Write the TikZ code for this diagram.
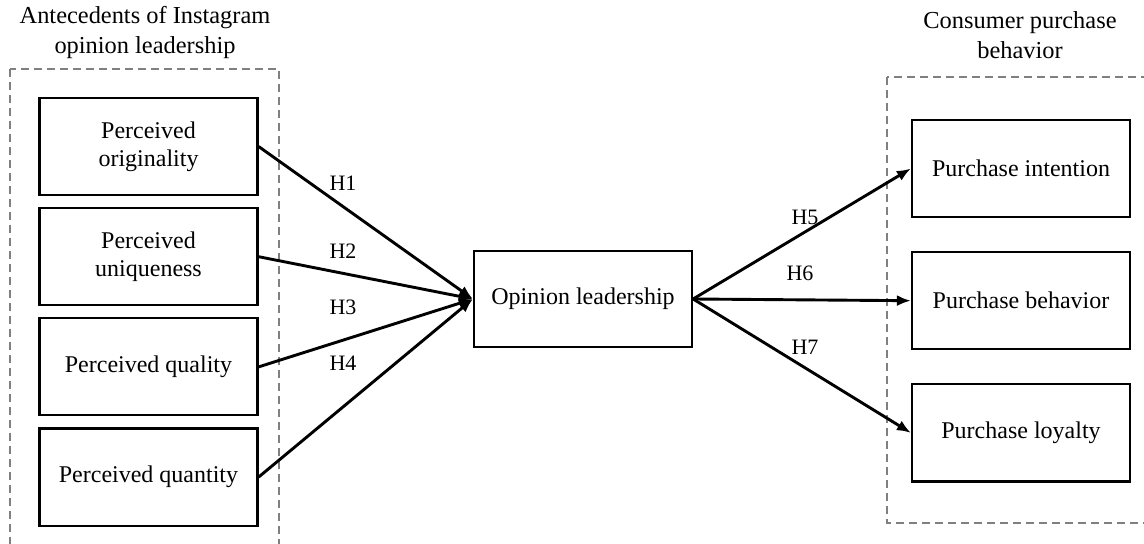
\documentclass[tikz,border=0pt]{standalone}
\usepackage{fontspec}
\setmainfont{Liberation Serif}
\usetikzlibrary{positioning,arrows.meta}

\begin{document}
\begin{tikzpicture}[
    x=0.5pt, y=-0.5pt,
    node distance = 5.5pt and 14mm,
    boxstyle/.style = {draw,
                       line width=1.1pt,
                       minimum width=109pt,
                       minimum height=48.5pt,
                       align=center,
                       font=\fontsize{12}{14}\selectfont},
    grpstyle/.style = {draw=gray,
                       line width=0.6pt,
                       dash pattern=on 4pt off 2.5pt},
    hyp/.style      = {font=\fontsize{11}{12}\selectfont},
    ttl/.style      = {align=center,
                       font=\fontsize{12.2}{15}\selectfont},
    arr/.style      = {line width=1.45pt,
                       -{Latex[length=7pt,width=5.5pt]}}
]
\useasboundingbox (0,0) rectangle (1144,544);
\clip (0,0) rectangle (1144,544);
% groups
\draw[grpstyle] (10,69) rectangle (279,570);
\draw[grpstyle] (887,77) rectangle (1170,523);
\node (tl) [ttl] at (145,33) {Antecedents of Instagram\\opinion leadership};
\node (tr) [ttl] at (1020,35) {Consumer purchase\\behavior};
% antecedents
\node (po) [boxstyle] at (148.5,146.5) {Perceived\\originality};
\node (pu) [boxstyle, below=of po] {Perceived\\uniqueness};
\node (pql) [boxstyle, below=of pu] {Perceived quality};
\node (pqn) [boxstyle, below=of pql] {Perceived quantity};
% opinion leadership
\node (ol) [boxstyle, minimum height=48pt] at (583,299) {Opinion leadership};
% purchase behavior
\node (pi) [boxstyle] at (1021,168.5) {Purchase intention};
\node (pb) [boxstyle, below=16.5pt of pi] {Purchase behavior};
\node (pl) [boxstyle, below=16.5pt of pb] {Purchase loyalty};
\draw[arr] (po.east) -- (ol.west);
\draw[arr] (pu.east) -- (ol.west);
\draw[arr] (pql.east) -- (ol.west);
\draw[arr] (pqn.east) -- (ol.west);
\draw[arr] (ol.east) -- (pi.west);
\draw[arr] (ol.east) -- (pb.west);
\draw[arr] (ol.east) -- (pl.west);
\node (h1) [hyp] at (343,183) {H1};
\node (h2) [hyp] at (343,251) {H2};
\node (h3) [hyp] at (343,307) {H3};
\node (h4) [hyp] at (343,363) {H4};
\node (h5) [hyp] at (805,217) {H5};
\node (h6) [hyp] at (800,273) {H6};
\node (h7) [hyp] at (805,347) {H7};
\end{tikzpicture}
\end{document}
